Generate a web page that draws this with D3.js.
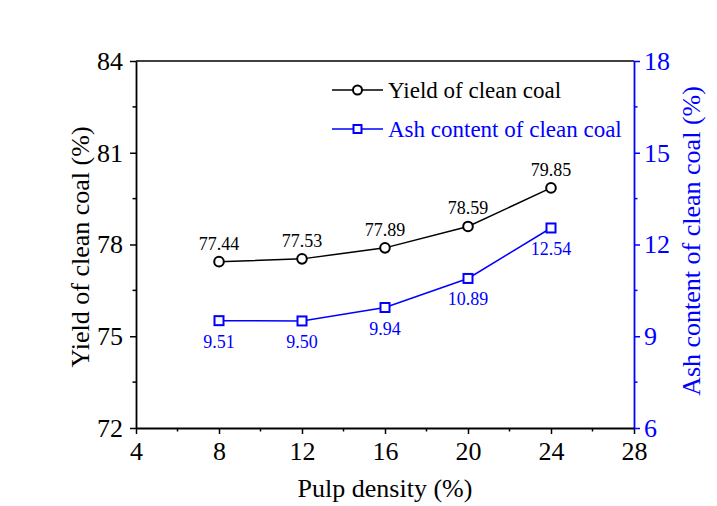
<!DOCTYPE html>
<html><head><meta charset="utf-8">
<script src="https://cdn.jsdelivr.net/npm/d3@7"></script>
<style>body{margin:0;background:#fff}svg{display:block}</style>
</head><body>
<svg id="c" width="717" height="506" font-family="Liberation Serif, Times New Roman, serif"></svg>
<script>
const pulpDensity = [8, 12, 16, 20, 24];
const yieldValues = [77.44, 77.53, 77.89, 78.59, 79.85];
const ashValues = [9.51, 9.50, 9.94, 10.89, 12.54];
const xTicks = [4, 8, 12, 16, 20, 24, 28];
const yLeftTicks = [72, 75, 78, 81, 84];
const yRightTicks = [6, 9, 12, 15, 18];
const seriesNames = ["Yield of clean coal", "Ash content of clean coal"];

const FONT = "Liberation Serif, Times New Roman, serif";
const svg = d3.select("#c");
const L = 136, R = 634, T = 61, B = 428;
const x = d3.scaleLinear().domain([4, 28]).range([L, R]);
const yL = d3.scaleLinear().domain([72, 84]).range([B, T]);
const yR = d3.scaleLinear().domain([6, 18]).range([B, T]);
const blue = "#0000ff";

// top frame
svg.append("line").attr("x1", L).attr("x2", R).attr("y1", T).attr("y2", T).attr("stroke", "#000").attr("stroke-width", 1.5);

// minor ticks
const minorX = d3.range(6, 28, 4);
svg.append("g").selectAll("line").data(minorX).join("line")
  .attr("x1", d => x(d)).attr("x2", d => x(d)).attr("y1", B).attr("y2", B + 3.5).attr("stroke", "#000").attr("stroke-width", 1.5);
const minorL = d3.range(73.5, 84, 3);
svg.append("g").selectAll("line").data(minorL).join("line")
  .attr("y1", d => yL(d)).attr("y2", d => yL(d)).attr("x1", L).attr("x2", L - 3.5).attr("stroke", "#000").attr("stroke-width", 1.5);
const minorR = d3.range(7.5, 18, 3);
svg.append("g").selectAll("line").data(minorR).join("line")
  .attr("y1", d => yR(d)).attr("y2", d => yR(d)).attr("x1", R).attr("x2", R + 3.5).attr("stroke", blue).attr("stroke-width", 1.5);

function styleAxis(g, color) {
  g.attr("font-family", FONT);
  g.select(".domain").attr("stroke", color).attr("stroke-width", 1.8);
  g.selectAll(".tick line").attr("stroke", color).attr("stroke-width", 1.5);
  g.selectAll(".tick text").attr("fill", color).attr("font-size", 26).attr("font-family", FONT);
}

const gx = svg.append("g").attr("transform", `translate(0,${B})`)
  .call(d3.axisBottom(x).tickValues(xTicks).tickSize(6).tickPadding(8).tickSizeOuter(0));
styleAxis(gx, "#000");

const gl = svg.append("g").attr("transform", `translate(${L},0)`)
  .call(d3.axisLeft(yL).tickValues(yLeftTicks).tickSize(6).tickPadding(7).tickSizeOuter(0));
styleAxis(gl, "#000");

const gr = svg.append("g").attr("transform", `translate(${R},0)`)
  .call(d3.axisRight(yR).tickValues(yRightTicks).tickSize(6).tickPadding(4).tickSizeOuter(0));
styleAxis(gr, blue);

// axis titles
svg.append("text").attr("font-family", FONT).attr("x", 385).attr("y", 497).attr("text-anchor", "middle").attr("font-size", 26).text("Pulp density (%)");
svg.append("text").attr("font-family", FONT).attr("transform", `translate(89,247) rotate(-90)`).attr("text-anchor", "middle").attr("font-size", 26).text("Yield of clean coal (%)");
svg.append("text").attr("font-family", FONT).attr("transform", `translate(700,241) rotate(-90)`).attr("text-anchor", "middle").attr("font-size", 26).attr("fill", blue).text("Ash content of clean coal (%)");

// yield series
const lineY = d3.line().x((d, i) => x(pulpDensity[i])).y(d => yL(d));
svg.append("path").datum(yieldValues).attr("d", lineY).attr("fill", "none").attr("stroke", "#000").attr("stroke-width", 1.5);
svg.append("g").selectAll("circle").data(yieldValues).join("circle")
  .attr("cx", (d, i) => x(pulpDensity[i])).attr("cy", d => yL(d)).attr("r", 4.8)
  .attr("fill", "#fff").attr("stroke", "#000").attr("stroke-width", 2);
svg.append("g").selectAll("text").data(yieldValues).join("text")
  .attr("font-family", FONT)
  .attr("x", (d, i) => x(pulpDensity[i])).attr("y", d => yL(d) - 12).attr("text-anchor", "middle")
  .attr("font-size", 18).text(d => d.toFixed(2));

// ash series
const lineA = d3.line().x((d, i) => x(pulpDensity[i])).y(d => yR(d));
svg.append("path").datum(ashValues).attr("d", lineA).attr("fill", "none").attr("stroke", blue).attr("stroke-width", 1.5);
svg.append("g").selectAll("rect").data(ashValues).join("rect")
  .attr("x", (d, i) => x(pulpDensity[i]) - 4.5).attr("y", d => yR(d) - 4.5).attr("width", 9).attr("height", 9)
  .attr("fill", "#fff").attr("stroke", blue).attr("stroke-width", 2);
svg.append("g").selectAll("text").data(ashValues).join("text")
  .attr("font-family", FONT)
  .attr("x", (d, i) => x(pulpDensity[i])).attr("y", d => yR(d) + 27).attr("text-anchor", "middle")
  .attr("font-size", 18).attr("fill", blue).text(d => d.toFixed(2));

// legend
const lg = svg.append("g").attr("font-family", FONT);
const legendRows = [{name: seriesNames[0], color: "#000", shape: "circle", y: 90, ty: 98}, {name: seriesNames[1], color: blue, shape: "square", y: 129, ty: 137}];
legendRows.forEach(r => {
  lg.append("line").attr("x1", 332).attr("x2", 383).attr("y1", r.y).attr("y2", r.y).attr("stroke", r.color).attr("stroke-width", 1.5);
  if (r.shape === "circle") {
    lg.append("circle").attr("cx", 357.5).attr("cy", r.y).attr("r", 4.5).attr("fill", "#fff").attr("stroke", r.color).attr("stroke-width", 2);
  } else {
    lg.append("rect").attr("x", 353.5).attr("y", r.y - 4).attr("width", 8).attr("height", 8).attr("fill", "#fff").attr("stroke", r.color).attr("stroke-width", 2);
  }
  lg.append("text").attr("font-family", FONT).attr("x", 388).attr("y", r.ty).attr("font-size", 23).attr("fill", r.color).text(r.name);
});
</script>
</body></html>
